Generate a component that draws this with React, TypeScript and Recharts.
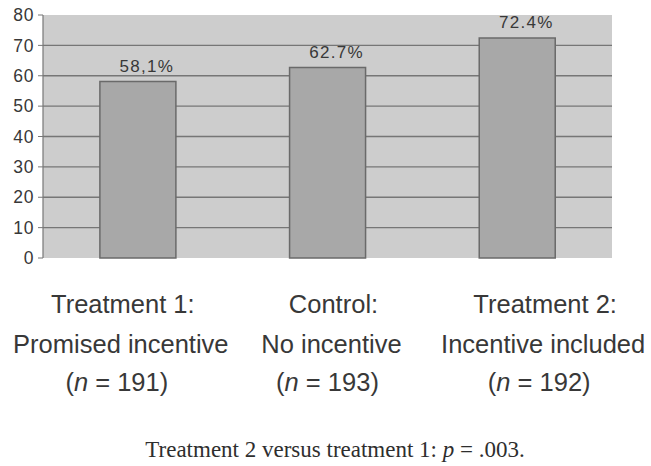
import React from "react";
import { BarChart, Bar, XAxis, YAxis, CartesianGrid, LabelList, Customized } from "recharts";

const categories = ["Treatment 1:", "Control:", "Treatment 2:"];
const subtitles = ["Promised incentive", "No incentive", "Incentive included"];
const sampleSizes = [191, 193, 192];
const responseRates = [58.1, 62.7, 72.4];
const valueLabels = ["58,1%", "62.7%", "72.4%"];
const yTicks = [0, 10, 20, 30, 40, 50, 60, 70, 80];
const gridValues = [10, 20, 30, 40, 50, 60, 70];
const note = "Treatment 2 versus treatment 1: ";

const data = categories.map((c, i) => ({
  name: c,
  sub: subtitles[i],
  n: sampleSizes[i],
  rate: responseRates[i],
  label: valueLabels[i],
}));

const labelShift = [-17, 4, 26];
const SANS = "'Liberation Sans', Arial, Helvetica, sans-serif";
const SERIF = "'Liberation Serif', 'Times New Roman', serif";

const CategoryTick = (props: any) => {
  const { x, y, index } = props;
  const d = data[index];
  if (!d) return null;
  const cx = x + (labelShift[index] || 0);
  const common = { textAnchor: "middle" as const, fill: "#383838", fontFamily: SANS, fontSize: 25.5 };
  return (
    <g>
      <text x={cx + 2} y={y + 55} {...common}>{d.name}</text>
      <text x={cx} y={y + 95} {...common}>{d.sub}</text>
      <text x={cx - 4} y={y + 133} {...common}>
        (<tspan fontStyle="italic">n</tspan> = {d.n})
      </text>
    </g>
  );
};

const ValueLabel = (props: any) => {
  const { x, y, width, index } = props;
  return (
    <text
      x={x + width / 2 + 9}
      y={y - 10}
      textAnchor="middle"
      fill="#383838"
      fontFamily={SANS}
      fontSize={17}
      letterSpacing={1.3}
    >
      {valueLabels[index]}
    </text>
  );
};

const Note = () => (
  <text x={335} y={457} textAnchor="middle" fill="#2e2e2e" fontFamily={SERIF} fontSize={23}>
    {note}
    <tspan fontStyle="italic">p</tspan> = .003.
  </text>
);

export default function App() {
  return (
    <div style={{ position: "absolute", left: 0, top: 0, background: "#fff" }}>
      <BarChart
        width={651}
        height={466}
        data={data}
        margin={{ top: 15, right: 39, bottom: 8, left: 0 }}
        barCategoryGap="30%"
      >
        <CartesianGrid
          vertical={false}
          horizontalValues={gridValues}
          stroke="#767676"
          strokeWidth={1.3}
          fill="#cdcdcd"
          fillOpacity={1}
        />
        <XAxis
          dataKey="name"
          height={200}
          axisLine={false}
          tickLine={false}
          tickSize={0}
          tickMargin={0}
          interval={0}
          tick={<CategoryTick />}
        />
        <YAxis
          width={43}
          domain={[0, 80]}
          ticks={yTicks}
          interval={0}
          axisLine={{ stroke: "#777777", strokeWidth: 1.2 }}
          tickLine={{ stroke: "#777777" }}
          tickSize={5}
          tickMargin={4}
          tick={{ fill: "#383838", fontFamily: SANS, fontSize: 17.5, letterSpacing: 0.6 }}
        />
        <Bar dataKey="rate" fill="#a8a8a8" stroke="#6a6a6a" strokeWidth={1.5} isAnimationActive={false}>
          <LabelList dataKey="label" content={<ValueLabel />} />
        </Bar>
        <Customized component={<Note />} />
      </BarChart>
    </div>
  );
}
